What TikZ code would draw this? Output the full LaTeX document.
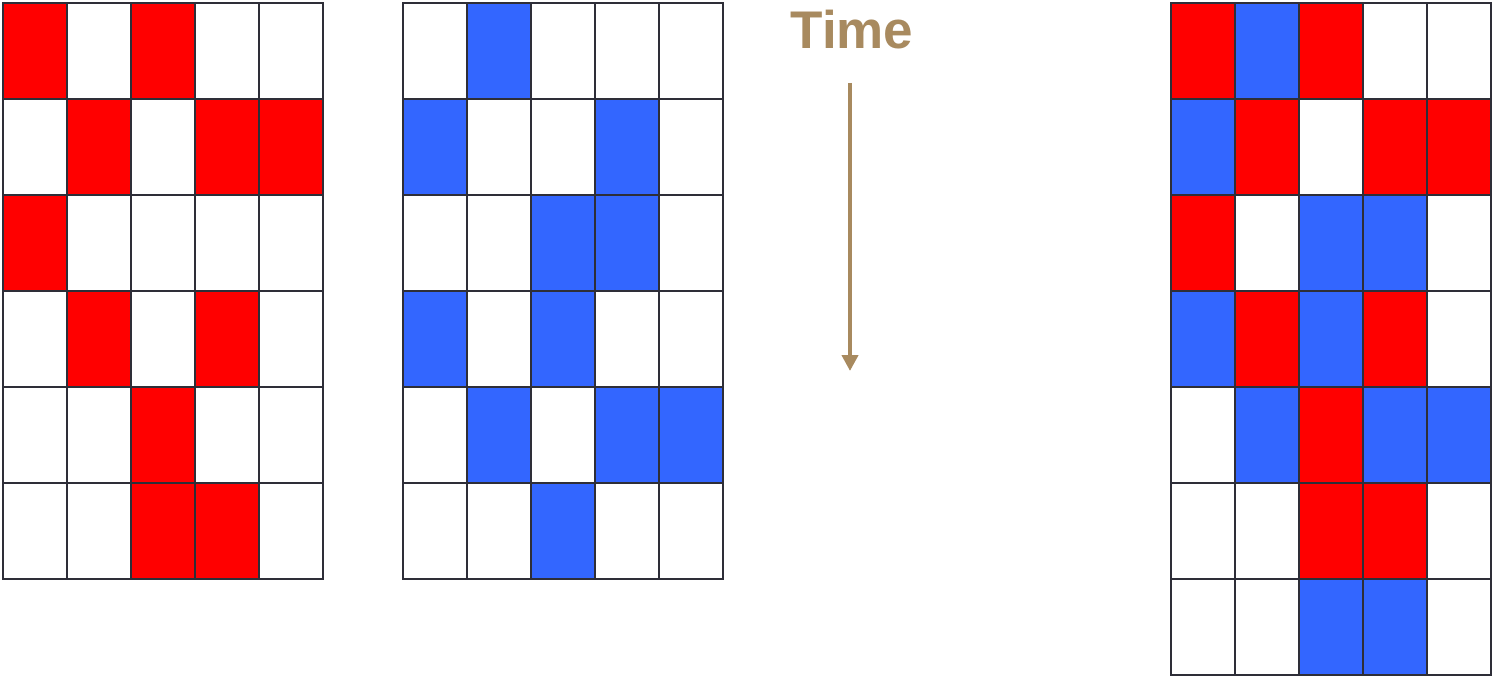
\documentclass[tikz,border=0pt]{standalone}
\usepackage{fontspec}
\setmainfont{Liberation Sans}
\usetikzlibrary{arrows.meta}
\definecolor{cR}{HTML}{FF0000}
\definecolor{cB}{HTML}{3366FF}
\definecolor{cW}{HTML}{FFFFFF}
\definecolor{gridc}{HTML}{2E2E38}
\definecolor{timec}{HTML}{A88A5F}
\tikzset{cellbox/.style={draw=gridc, line width=2.2pt}}
\newcommand{\mygrid}[3]{% x0, y0, rows list
  \foreach \rowcols [count=\r from 0] in {#3} {
    \foreach \c [count=\k from 0] in \rowcols {
      \filldraw[cellbox, fill=c\c] ({#1+64*\k},{#2+96*\r}) rectangle ++(64,96);
    }
  }
}
\begin{document}
\begin{tikzpicture}[x=1pt,y=-1pt]
\useasboundingbox[fill=white] (0,0) rectangle (1492,677);
\mygrid{3}{3}{{R,W,R,W,W},{W,R,W,R,R},{R,W,W,W,W},{W,R,W,R,W},{W,W,R,W,W},{W,W,R,R,W}}
\mygrid{403}{3}{{W,B,W,W,W},{B,W,W,B,W},{W,W,B,B,W},{B,W,B,W,W},{W,B,W,B,B},{W,W,B,W,W}}
\mygrid{1171}{3}{{R,B,R,W,W},{B,R,W,R,R},{R,W,B,B,W},{B,R,B,R,W},{W,B,R,B,B},{W,W,R,R,W},{W,W,B,B,W}}
\node[text=timec, font=\fontsize{53}{60}\selectfont\bfseries, inner sep=0pt, anchor=base] (time) at (852,49) {Time};
\coordinate (tstart) at (850,83);
\coordinate (tend) at (850,371);
\draw[timec, line width=4pt, -{Triangle[length=16pt,width=16pt]}] (tstart) -- (tend);
\end{tikzpicture}
\end{document}
